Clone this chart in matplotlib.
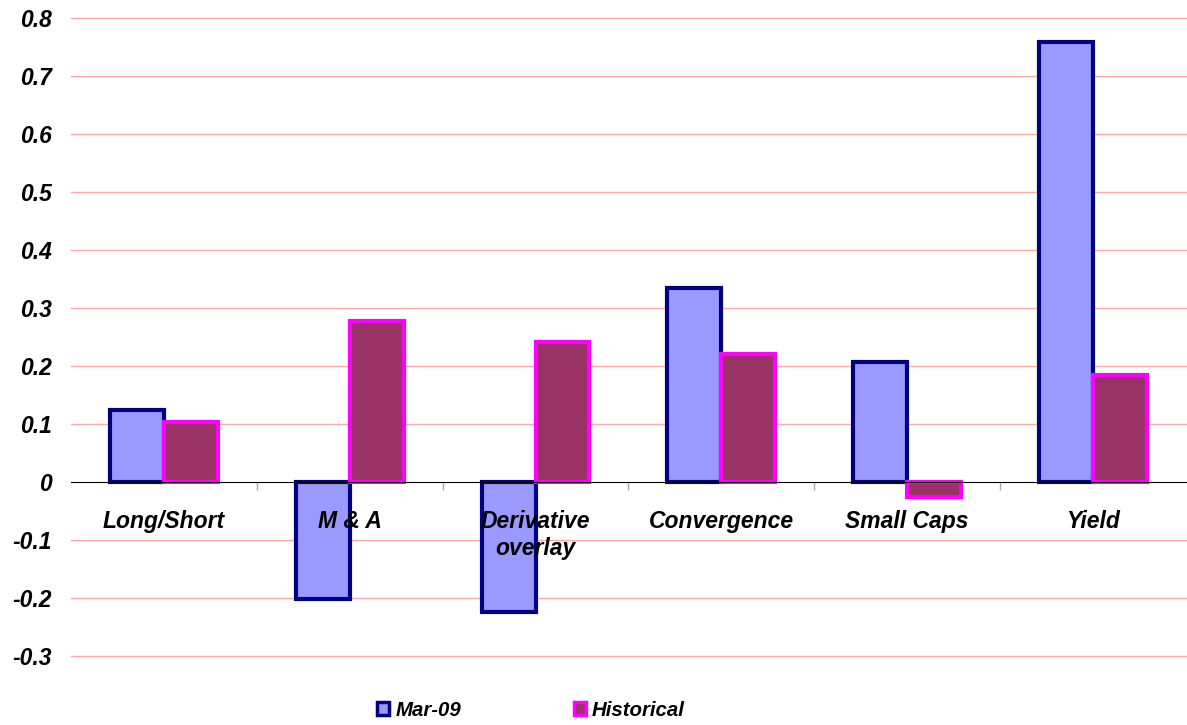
import matplotlib.pyplot as plt
import numpy as np
from matplotlib.patches import Patch

plt.rcParams['font.family'] = ['Liberation Sans', 'DejaVu Sans']

categories = ["Long/Short", "M & A", "Derivative\noverlay", "Convergence", "Small Caps", "Yield"]
mar09 = [0.124, -0.202, -0.224, 0.334, 0.207, 0.759]
historical = [0.103, 0.278, 0.241, 0.221, -0.026, 0.184]
series_names = ["Mar-09", "Historical"]

fig = plt.figure(figsize=(11.87, 7.25), dpi=100)
ax = fig.add_axes([71 / 1187, 69 / 725, 1 - 71 / 1187 - 0.001, (656 - 18) / 725])

x = np.arange(len(categories))
w = 0.29
ax.bar(x - w / 2, mar09, w, color="#9999FF", edgecolor="#000080", linewidth=3, zorder=3)
ax.bar(x + w / 2, historical, w, color="#993366", edgecolor="#FF00FF", linewidth=3, zorder=3)

ax.set_xlim(-0.5, len(categories) - 0.5)
ax.set_ylim(-0.3, 0.8)
yt = np.round(np.arange(-0.3, 0.81, 0.1), 1)
ax.set_yticks(yt)
ax.set_yticklabels([f"{v:g}" if abs(v) > 1e-9 else "0" for v in yt],
                   fontsize=16.5, fontweight="bold", fontstyle="italic")
ax.tick_params(axis="y", length=0, pad=13.5)
for v in yt:
    if abs(v) > 1e-9:
        ax.axhline(v, color="#FFAAAA", linewidth=1, zorder=0, clip_on=False)

for s in ["top", "right", "left"]:
    ax.spines[s].set_visible(False)
ax.spines["bottom"].set_position(("data", 0))
ax.spines["bottom"].set_color("black")
ax.spines["bottom"].set_zorder(4)
ax.set_xticks(np.arange(0.5, len(categories) - 1, 1))
ax.set_xticklabels([])
ax.tick_params(axis="x", length=6, color="#AAAAAA", width=1, direction="out")

for i, c in enumerate(categories):
    ax.text(i, -0.048, c, ha="center", va="top", fontsize=16.5,
            fontweight="bold", fontstyle="italic", zorder=5, linespacing=1.25)

handles = [Patch(facecolor="#9999FF", edgecolor="#000080", linewidth=2.5),
           Patch(facecolor="#993366", edgecolor="#FF00FF", linewidth=2.5)]
fig.legend(handles, series_names, loc="center", bbox_to_anchor=(531 / 1187, 1 - 710 / 725),
           ncol=2, frameon=False, handlelength=0.6, handleheight=0.6, handletextpad=0.3,
           columnspacing=5.5, prop={"size": 14.7, "weight": "bold", "style": "italic"})

fig.savefig("out.png", dpi=100)
